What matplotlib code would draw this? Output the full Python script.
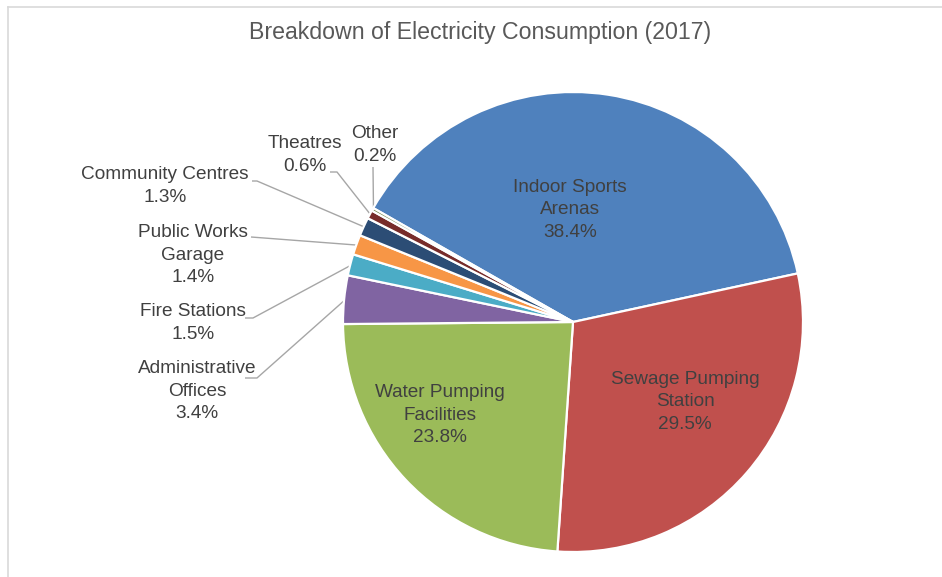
import matplotlib
matplotlib.use("Agg")
import matplotlib.pyplot as plt
import numpy as np
from matplotlib.lines import Line2D

plt.rcParams['font.family'] = ['Liberation Sans', 'DejaVu Sans']

# Consumption shares by facility type (percent of total, 2017)
categories = ["Indoor Sports\nArenas", "Sewage Pumping\nStation", "Water Pumping\nFacilities",
              "Administrative\nOffices", "Fire Stations", "Public Works\nGarage",
              "Community Centres", "Theatres", "Other"]
shares = [38.4, 29.5, 23.8, 3.4, 1.5, 1.4, 1.3, 0.6, 0.2]
colors = ["#4F81BD", "#C0504D", "#9BBB59", "#8064A2", "#4BACC6", "#F79646",
          "#2C4D75", "#772C2A", "#5F7530"]

W, H = 942, 577
fig = plt.figure(figsize=(W / 100, H / 100), dpi=100)
ax = fig.add_axes([0, 0, 1, 1])


def py(y):
    """Convert a top-down pixel row into the axes' upward y."""
    return H - y


cx, cy, R = 573, py(322), 230
wedges, _ = ax.pie(shares, colors=colors, startangle=150.3, counterclock=False,
                   center=(cx, cy), radius=R,
                   wedgeprops=dict(edgecolor="white", linewidth=1.6))

ax.set_xlim(0, W)
ax.set_ylim(0, H)
ax.set_aspect('equal')
ax.axis('off')

label_color = "#404040"
fs = 13.7

# Text placement: (x, y, kind, leader start points)
placement = [
    (570, 210, 'in', None),
    (685, 402, 'in', None),
    (440, 415, 'in', None),
    (197, 391, 'out', [(245, 378), (257, 378)]),
    (193, 323, 'out', [(245, 318), (253, 318)]),
    (193, 255, 'out', [(251, 237)]),
    (165, 186, 'out', [(252, 181), (257, 181)]),
    (305, 155, 'out', [(330, 172), (337, 172)]),
    (375, 145, 'out', [(373, 167)]),
]

for w, name, val, (tx, ty, kind, lead) in zip(wedges, categories, shares, placement):
    ax.text(tx, py(ty), f"{name}\n{val:.1f}%", ha='center', va='center',
            fontsize=fs, color=label_color, linespacing=1.42)
    if kind == 'out':
        mid = np.deg2rad((w.theta1 + w.theta2) / 2)
        ex = cx + R * 0.995 * np.cos(mid)
        ey = cy + R * 0.995 * np.sin(mid)
        xs = [p[0] for p in lead] + [ex]
        ys = [py(p[1]) for p in lead] + [ey]
        ax.plot(xs, ys, color="#A6A6A6", lw=1.0, solid_capstyle='butt', zorder=0.5)

ax.text(480, py(33), "Breakdown of Electricity Consumption (2017)", ha='center',
        va='center', fontsize=16.7, color="#595959")

# Chart-area border (left and top edges)
fig.add_artist(Line2D([7.5 / W, 7.5 / W], [0, 1 - 6.5 / H], color="#D9D9D9", lw=1.2,
                      transform=fig.transFigure))
fig.add_artist(Line2D([7.5 / W, 1], [1 - 6.5 / H, 1 - 6.5 / H], color="#D9D9D9", lw=1.2,
                      transform=fig.transFigure))

fig.savefig("out.png", dpi=100, facecolor="white")
